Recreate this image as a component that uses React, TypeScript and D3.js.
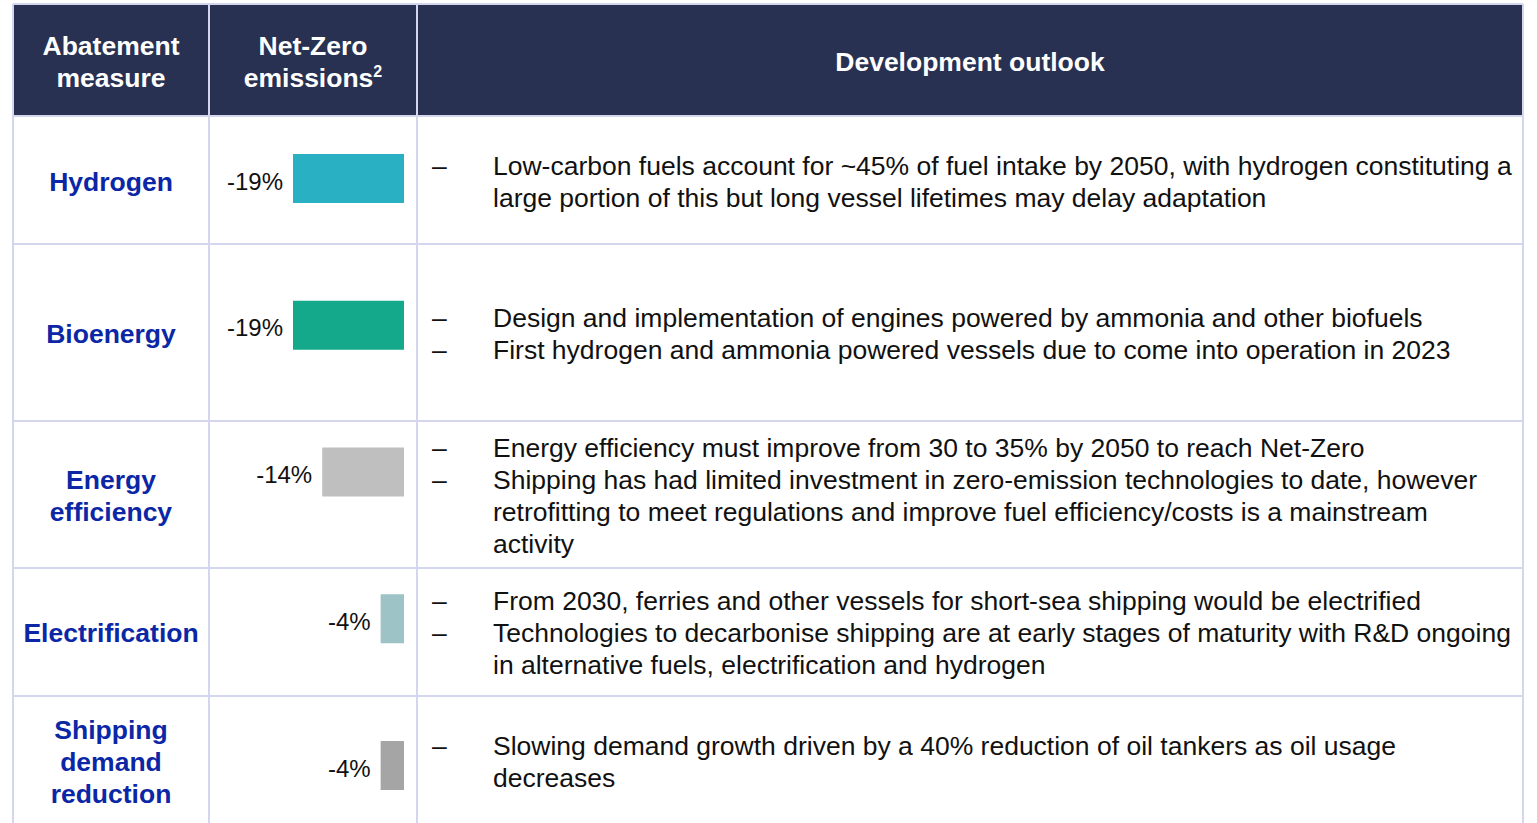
import React from "react";
import * as d3 from "d3";

const headers = ["Abatement\nmeasure", "Net-Zero\nemissions", "Development outlook"];
const measures = ["Hydrogen", "Bioenergy", "Energy\nefficiency", "Electrification", "Shipping\ndemand\nreduction"];
const values = [-19, -19, -14, -4, -4];
const barColors = ["#29b0c3", "#14a98a", "#bfbfbf", "#9dc3c6", "#a5a5a5"];
const outlook: string[][][] = [
  [["Low-carbon fuels account for ~45% of fuel intake by 2050, with hydrogen constituting a", "large portion of this but long vessel lifetimes may delay adaptation"]],
  [["Design and implementation of engines powered by ammonia and other biofuels"], ["First hydrogen and ammonia powered vessels due to come into operation in 2023"]],
  [["Energy efficiency must improve from 30 to 35% by 2050 to reach Net-Zero"], ["Shipping has had limited investment in zero-emission technologies to date, however", "retrofitting to meet regulations and improve fuel efficiency/costs is a mainstream", "activity"]],
  [["From 2030, ferries and other vessels for short-sea shipping would be electrified"], ["Technologies to decarbonise shipping are at early stages of maturity with R&D ongoing", "in alternative fuels, electrification and hydrogen"]],
  [["Slowing demand growth driven by a 40% reduction of oil tankers as oil usage", "decreases"]],
];

const colEdges = [13, 209, 417, 1523];
const rowEdges = [4, 116, 244, 421, 568, 696, 826];
const W = 1537, H = 823;
const FONT = "'Liberation Sans', Arial, sans-serif";
const BORDER = "#d3d6ec";
const NAVY = "#283152";
const BLUE = "#0b27a6";
const LH = 32;
const FS = 26.5;

export default function App() {
  const x = d3.scaleLinear().domain([-19, 0]).range([293, 404]);
  const yBar = d3.scaleLinear().domain([0, 4]).range([154, 741]);
  const barH = 49;

  return (
    <svg width={W} height={H} style={{ position: "absolute", left: 0, top: 0, display: "block" }} fontFamily={FONT}>
      <rect x={0} y={0} width={W} height={H} fill="#fff" />
      <rect x={colEdges[0]} y={rowEdges[0]} width={colEdges[3] - colEdges[0]} height={rowEdges[1] - rowEdges[0]} fill={NAVY} />
      {rowEdges.map((y, i) => (
        <line key={"h" + i} x1={colEdges[0]} x2={colEdges[3]} y1={y} y2={y} stroke={BORDER} strokeWidth={2} />
      ))}
      {colEdges.map((cx, i) => (
        <line key={"v" + i} x1={cx} x2={cx} y1={rowEdges[0]} y2={rowEdges[6]} stroke={BORDER} strokeWidth={2} />
      ))}
      {headers.map((h, i) => {
        const lines = h.split("\n");
        const cx = (colEdges[i] + colEdges[i + 1]) / 2;
        const cy = (rowEdges[0] + rowEdges[1]) / 2;
        return (
          <text key={"hd" + i} x={cx} textAnchor="middle" fill="#fff" fontWeight="bold" fontSize={FS}>
            {lines.map((l, j) => (
              <tspan key={j} x={cx} y={cy + (j - (lines.length - 1) / 2) * LH + 11}>
                {l}
                {i === 1 && j === 1 ? <tspan fontSize={16} dy={-10}>2</tspan> : null}
              </tspan>
            ))}
          </text>
        );
      })}
      {measures.map((m, i) => {
        const cy = (rowEdges[i + 1] + rowEdges[i + 2]) / 2;
        const lines = m.split("\n");
        const cx = (colEdges[0] + colEdges[1]) / 2;
        const bullets = outlook[i];
        const allLines: { t: string; first: boolean }[] = [];
        bullets.forEach((b) => b.forEach((t, k) => allLines.push({ t, first: k === 0 })));
        const by = yBar(i);
        const off = i === 0 ? 11 : 10;
        return (
          <g key={"r" + i}>
            <text x={cx} textAnchor="middle" fill={BLUE} fontWeight="bold" fontSize={FS}>
              {lines.map((l, j) => (
                <tspan key={j} x={cx} y={cy + (j - (lines.length - 1) / 2) * LH + off}>{l}</tspan>
              ))}
            </text>
            <rect x={x(values[i])} y={by} width={x(0) - x(values[i])} height={barH} fill={barColors[i]} />
            <text x={x(values[i]) - 10} y={by + barH / 2 + 11} textAnchor="end" fontSize={24} fill="#111">
              {values[i] + "%"}
            </text>
            {allLines.map((ln, j) => {
              const ly = cy + (j - (allLines.length - 1) / 2) * LH + off;
              return (
                <g key={j}>
                  {ln.first ? <text x={432} y={ly} fontSize={FS} fill="#111">–</text> : null}
                  <text x={493} y={ly} fontSize={FS} fill="#111">{ln.t}</text>
                </g>
              );
            })}
          </g>
        );
      })}
    </svg>
  );
}
